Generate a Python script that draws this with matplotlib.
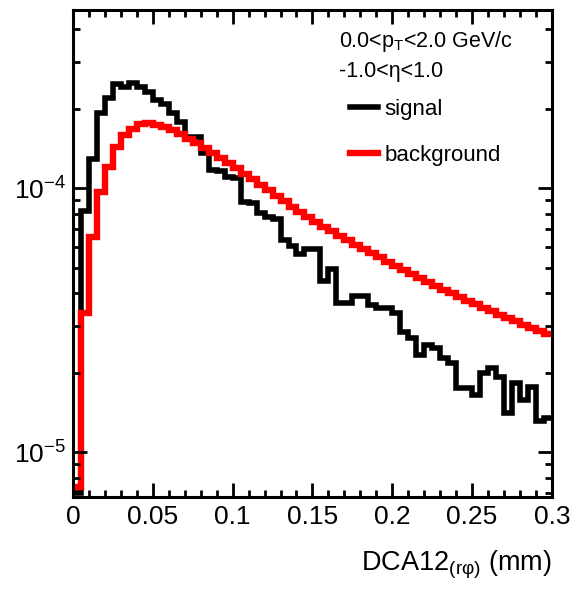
import numpy as np
import matplotlib
matplotlib.use("Agg")
import matplotlib.pyplot as plt
from matplotlib.ticker import MultipleLocator, LogLocator, NullFormatter, FuncFormatter

plt.rcParams['font.family'] = ['Liberation Sans', 'DejaVu Sans']
plt.rcParams['mathtext.fontset'] = 'custom'
plt.rcParams['mathtext.rm'] = 'Liberation Sans'
plt.rcParams['mathtext.it'] = 'Liberation Sans:italic'
plt.rcParams['mathtext.bf'] = 'Liberation Sans:bold'

# DCA12 bins (mm), 60 bins of 0.005
bin_edges = np.linspace(0.0, 0.3, 61)

signal = [7.0e-6, 8.2e-5, 1.29e-4, 1.92e-4, 2.19e-4, 2.48e-4, 2.41e-4, 2.50e-4, 2.41e-4, 2.31e-4,
          2.15e-4, 2.08e-4, 1.92e-4, 1.78e-4, 1.56e-4, 1.56e-4, 1.36e-4, 1.17e-4, 1.16e-4, 1.10e-4,
          1.09e-4, 8.85e-5, 8.77e-5, 8.04e-5, 7.76e-5, 7.63e-5, 6.35e-5, 6.03e-5, 5.62e-5, 5.87e-5,
          5.87e-5, 4.44e-5, 4.93e-5, 3.67e-5, 3.67e-5, 3.90e-5, 3.90e-5, 3.60e-5, 3.51e-5, 3.51e-5,
          3.36e-5, 2.85e-5, 2.70e-5, 2.33e-5, 2.54e-5, 2.48e-5, 2.27e-5, 2.17e-5, 1.75e-5, 1.75e-5,
          1.64e-5, 1.99e-5, 2.08e-5, 1.92e-5, 1.41e-5, 1.83e-5, 1.57e-5, 1.76e-5, 1.31e-5, 1.35e-5]

background = [7.37e-6, 3.36e-5, 6.52e-5, 9.66e-5, 1.20e-4, 1.43e-4, 1.59e-4, 1.67e-4, 1.75e-4, 1.76e-4,
              1.73e-4, 1.70e-4, 1.66e-4, 1.60e-4, 1.53e-4, 1.48e-4, 1.42e-4, 1.36e-4, 1.30e-4, 1.24e-4,
              1.19e-4, 1.13e-4, 1.08e-4, 1.03e-4, 9.83e-5, 9.33e-5, 8.93e-5, 8.48e-5, 8.11e-5, 7.76e-5,
              7.43e-5, 7.12e-5, 6.87e-5, 6.58e-5, 6.35e-5, 6.08e-5, 5.87e-5, 5.67e-5, 5.48e-5, 5.24e-5,
              5.06e-5, 4.89e-5, 4.72e-5, 4.56e-5, 4.41e-5, 4.25e-5, 4.11e-5, 4.00e-5, 3.87e-5, 3.73e-5,
              3.64e-5, 3.51e-5, 3.42e-5, 3.30e-5, 3.22e-5, 3.13e-5, 3.03e-5, 2.95e-5, 2.87e-5, 2.80e-5]

x_ticks = [0, 0.05, 0.1, 0.15, 0.2, 0.25, 0.3]
x_ticklabels = ['0', '0.05', '0.1', '0.15', '0.2', '0.25', '0.3']

fig = plt.figure(figsize=(5.77, 5.90), dpi=100)
ax = fig.add_axes([0.1265, 0.1576, 0.830, 0.8254])

ax.stairs(signal, bin_edges, baseline=None, color='black', lw=4.0, label='signal')
ax.stairs(background, bin_edges, baseline=None, color='#ff0000', lw=4.6, label='background')

ax.set_yscale('log')
ax.set_xlim(0, 0.3)
ax.set_ylim(6.76e-6, 4.72e-4)

ax.set_xticks(x_ticks)
ax.set_xticklabels(x_ticklabels)
ax.xaxis.set_minor_locator(MultipleLocator(0.01))
ax.yaxis.set_major_locator(LogLocator(base=10))
ax.yaxis.set_minor_locator(LogLocator(base=10, subs=np.arange(2, 10)))
ax.yaxis.set_minor_formatter(NullFormatter())
ax.yaxis.set_major_formatter(FuncFormatter(lambda v, p: r'$10^{%d}$' % round(np.log10(v))))

ax.tick_params(which='both', direction='in', top=True, right=True, width=2.0, labelsize=19)
ax.tick_params(which='major', length=10)
ax.tick_params(which='minor', length=5)
ax.tick_params(axis='x', pad=6)
ax.tick_params(axis='y', pad=5)
for s in ax.spines.values():
    s.set_linewidth(2.2)

ax.set_xlabel('DCA12$_{\\mathregular{(r\u03c6)}}$ (mm)', fontsize=19.5, loc='right', labelpad=14)

ax.text(0.555, 0.925, r'0.0<p$_{\mathregular{T}}$<2.0 GeV/c', transform=ax.transAxes, fontsize=15.5)
ax.text(0.555, 0.862, '-1.0<\u03b7<1.0', transform=ax.transAxes, fontsize=15.5)

ax.legend(loc='upper left', bbox_to_anchor=(0.56, 0.835), frameon=False, fontsize=16,
          handlelength=1.25, handletextpad=0.3, labelspacing=1.1, borderaxespad=0)

fig.savefig('out.png', dpi=100)
